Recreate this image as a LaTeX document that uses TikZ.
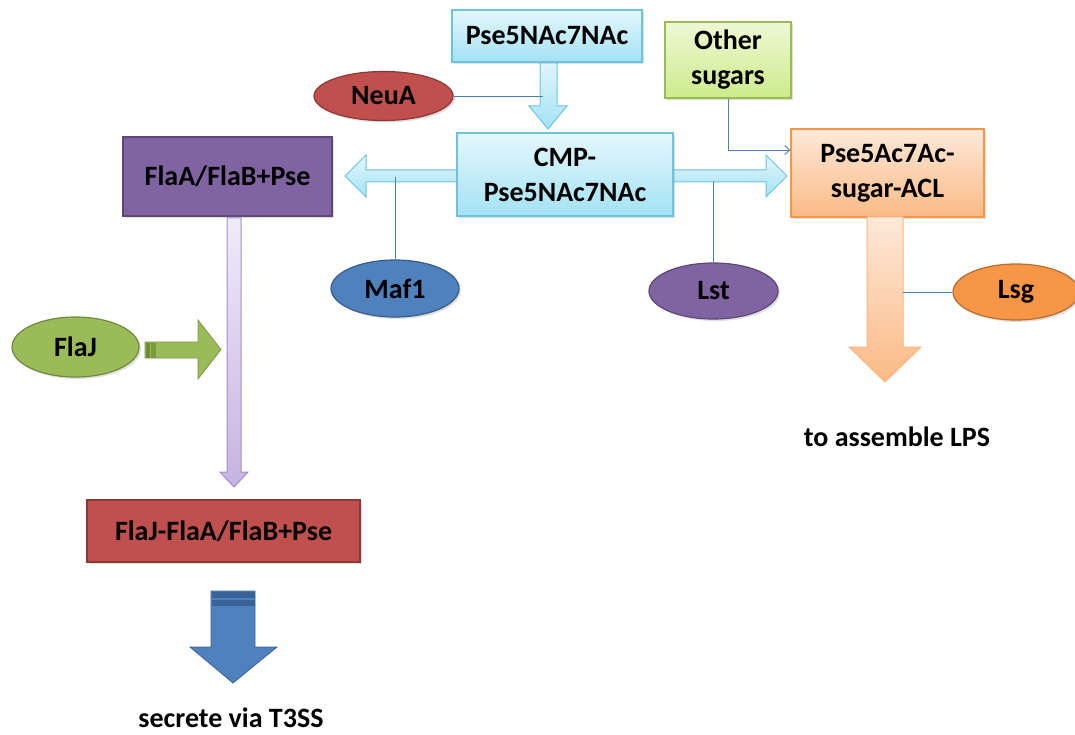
\documentclass[tikz,border=0pt]{standalone}
\usepackage{fontspec}
\setmainfont{Carlito}
\usetikzlibrary{shapes.geometric,shadows,arrows.meta}
\definecolor{cyB}{HTML}{6CC4DC}
\definecolor{cyT}{HTML}{E4F7FC}
\definecolor{cyD}{HTML}{A3E2F4}
\definecolor{grT}{HTML}{EEF8D6}
\definecolor{grD}{HTML}{CDEB8B}
\definecolor{grB}{HTML}{9BBB59}
\definecolor{purF}{HTML}{8064A2}
\definecolor{purB}{HTML}{5C4776}
\definecolor{redF}{HTML}{C0504D}
\definecolor{redB}{HTML}{8C3836}
\definecolor{bluF}{HTML}{4F81BD}
\definecolor{bluB}{HTML}{385D8A}
\definecolor{bluD}{HTML}{3A6299}
\definecolor{greF}{HTML}{9BBB59}
\definecolor{greB}{HTML}{71893F}
\definecolor{greD}{HTML}{6E8C34}
\definecolor{orF}{HTML}{F79646}
\definecolor{orB}{HTML}{B66D31}
\definecolor{orT}{HTML}{FDE9D9}
\definecolor{orD}{HTML}{FBBA85}
\definecolor{lavT}{HTML}{F0EBF8}
\definecolor{lavD}{HTML}{C6B3E0}
\definecolor{lavB}{HTML}{A28FCB}
\definecolor{lnk}{HTML}{4A7EBB}
\tikzset{
  x=1pt,y=-1pt,
  lbl/.style={font=\fontsize{28}{35}\selectfont\bfseries, align=center, text=black},
  box/.style={lbl, rectangle, inner sep=0pt, line width=1.2pt},
  oval/.style={lbl, ellipse, inner sep=0pt, line width=1.2pt},
  shade/.style={drop shadow={shadow xshift=2pt, shadow yshift=-2pt, opacity=0.25}},
  link/.style={draw=lnk, line width=0.9pt},
  cyarrow/.style={draw=cyB, line width=1pt, top color=cyT, bottom color=cyD},
}
\begin{document}
\begin{tikzpicture}
\useasboundingbox[fill=white] (0,0) rectangle (1075,735);

% double cyan arrow (behind CMP)
\draw[cyarrow]
  (345,176) -- (366,155) -- (366,170) -- (766,170) -- (766,155) -- (787,176)
  -- (766,197) -- (766,182) -- (366,182) -- (366,197) -- cycle;
% down cyan arrow
\draw[cyarrow] (540,58) -- (557,58) -- (557,106) -- (567,106) -- (548,129)
  -- (529,106) -- (540,106) -- cycle;

% nodes
\node[box, shade, draw=cyB, top color=cyT, bottom color=cyD, minimum width=190, minimum height=52] (pse) at (547,36) {Pse5NAc7NAc};
\node[box, shade, draw=grB, top color=grT, bottom color=grD, minimum width=126, minimum height=76] (other) at (728,60) {Other\\sugars};
\node[oval, shade, draw=redB, fill=redF, minimum width=139, minimum height=49] (neua) at (383.5,96) {NeuA};
\node[box, shade, draw=cyB, top color=cyT, bottom color=cyD, minimum width=216, minimum height=83] (cmp) at (565,174.5) {CMP-\\Pse5NAc7NAc};
\node[box, shade, draw=purB, fill=purF, minimum width=209, minimum height=79] (flaa) at (227.5,176.5) {FlaA/FlaB+Pse};
\node[oval, shade, draw=bluB, fill=bluF, minimum width=128, minimum height=57] (maf) at (395,288.5) {Maf1};
\node[oval, shade, draw=purB, fill=purF, minimum width=129, minimum height=56] (lst) at (713.5,291) {Lst};
\node[box, shade, draw=orF, top color=orT, bottom color=orD, minimum width=193, minimum height=88] (acl) at (887.5,173) {Pse5Ac7Ac-\\sugar-ACL};
\node[oval, shade, draw=orB, fill=orF, minimum width=126, minimum height=56] (lsg) at (1016,292) {Lsg};
\node[oval, shade, draw=greB, fill=greF, minimum width=127, minimum height=60] (flaj) at (75.5,347) {FlaJ};
\node[box, shade, draw=redB, fill=redF, minimum width=273, minimum height=62] (flajfla) at (223.5,531) {FlaJ-FlaA/FlaB+Pse};
\node[lbl] (lps) at (897,437) {to assemble LPS};
\node[lbl] (t3ss) at (231,718) {secrete via T3SS};

% lavender vertical arrow
\draw[draw=lavB, line width=1pt, top color=lavT, bottom color=lavD]
  (227,218) -- (241,218) -- (241,472) -- (248,472) -- (234,487) -- (220,472)
  -- (227,472) -- cycle;
% FlaJ green arrow
\draw[draw=greF!80!black, line width=0.8pt, fill=greF]
  (145,342) -- (198,342) -- (198,320) -- (221,349.5) -- (198,379) -- (198,358)
  -- (145,358) -- cycle;
\fill[greD] (145.5,342.5) rectangle (150,357.5);
\fill[greD!70!greF] (151,342.5) rectangle (156,357.5);
% orange down arrow
\draw[draw=orD!90!orF, line width=1pt, top color=orT, bottom color=orD]
  (867,217) -- (903,217) -- (903,347) -- (921,347) -- (885,382) -- (849,347)
  -- (867,347) -- cycle;
% blue arrow
\draw[draw=bluB!80!bluF, line width=0.8pt, fill=bluF]
  (211,591) -- (255,591) -- (255,647) -- (277,647) -- (233,683) -- (190,647)
  -- (211,647) -- cycle;
\fill[bluD] (211.5,591.5) rectangle (254.5,598);
\fill[bluD] (211.5,600) rectangle (254.5,606);

% thin connectors
\draw[link] (neua.east) -- (543,96);
\draw[link] (maf.north) -- (maf.north |- 0,177);
\draw[link] (lst.north) -- (lst.north |- 0,182);
\draw[link] (lsg.west) -- (903,292);
\draw[link, -{Straight Barb[length=5pt,width=9pt]}] (other.south) -- (728,150) -- (acl.west |- 0,150);
\end{tikzpicture}
\end{document}
